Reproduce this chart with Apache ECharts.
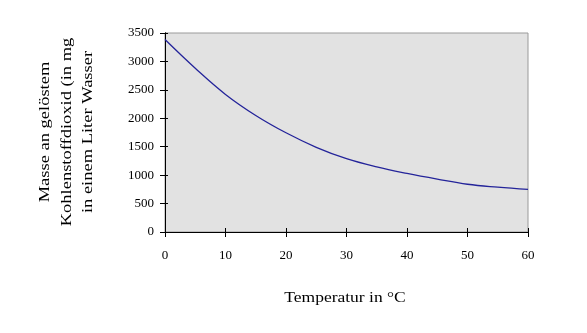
<!DOCTYPE html>
<html><head><meta charset="utf-8">
<script src="https://cdn.jsdelivr.net/npm/echarts@6/dist/echarts.min.js"></script>
<style>html,body{margin:0;padding:0;background:#fff}#c{width:587px;height:333px}</style>
</head><body><div id="c"></div>
<script>
var temperatures = [0, 5, 10, 15, 20, 25, 30, 35, 40, 45, 50, 55, 60];
var masses = [3385, 2880, 2420, 2050, 1745, 1490, 1290, 1145, 1030, 930, 840, 788, 748];
var yTitleLines = ['Masse an gelöstem', 'Kohlenstoffdioxid (in mg', 'in einem Liter Wasser'];
var xTitle = 'Temperatur in °C';

var font = '"Liberation Serif", "DejaVu Serif", serif';
var chart = echarts.init(document.getElementById('c'), null, {renderer: 'canvas'});
var grid = {left: 165, right: 59, top: 33, bottom: 101, show: true, backgroundColor: '#e2e2e2', borderColor: '#9a9a9a', borderWidth: 1};
var axisLine = {show: true, onZero: false, lineStyle: {color: '#000', width: 1}};
var plain = function (v) { return String(v); };
chart.setOption({
  animation: false,
  grid: grid,
  xAxis: [{
    type: 'value', min: 0, max: 60, interval: 10, position: 'bottom',
    axisLine: axisLine,
    axisTick: {show: true, inside: false, length: 5, lineStyle: {color: '#000'}},
    axisLabel: {color: '#000', fontFamily: font, fontSize: 13, margin: 17, formatter: plain},
    splitLine: {show: false}
  }, {
    type: 'value', min: 0, max: 60, interval: 10, position: 'bottom',
    axisLine: axisLine,
    axisTick: {show: true, inside: true, length: 4, lineStyle: {color: '#000'}},
    axisLabel: {show: false}, splitLine: {show: false}
  }],
  yAxis: [{
    type: 'value', min: 0, max: 3500, interval: 500, position: 'left',
    axisLine: axisLine,
    axisTick: {show: true, inside: false, length: 5, lineStyle: {color: '#000'}},
    axisLabel: {color: '#000', fontFamily: font, fontSize: 13, margin: 11, formatter: plain},
    splitLine: {show: false}
  }, {
    type: 'value', min: 0, max: 3500, interval: 500, position: 'left',
    axisLine: axisLine,
    axisTick: {show: true, inside: true, length: 3, lineStyle: {color: '#000'}},
    axisLabel: {show: false}, splitLine: {show: false}
  }],
  series: [{
    type: 'line', smooth: 0.4, showSymbol: false, symbol: 'none',
    xAxisIndex: 0, yAxisIndex: 0,
    data: temperatures.map(function (t, i) { return [t, masses[i]]; }),
    lineStyle: {color: '#24249a', width: 1.3}
  }],
  graphic: [{
    type: 'text', x: 67, y: 132, rotation: Math.PI / 2, scaleX: 1.32,
    style: {text: yTitleLines.join('\n'), fill: '#000', font: '14px ' + font, align: 'center', verticalAlign: 'middle', lineHeight: 21.5}
  }, {
    type: 'text', x: 345, y: 298, scaleX: 1.25,
    style: {text: xTitle, fill: '#000', font: '14px ' + font, align: 'center', verticalAlign: 'middle'}
  }]
});
</script></body></html>
